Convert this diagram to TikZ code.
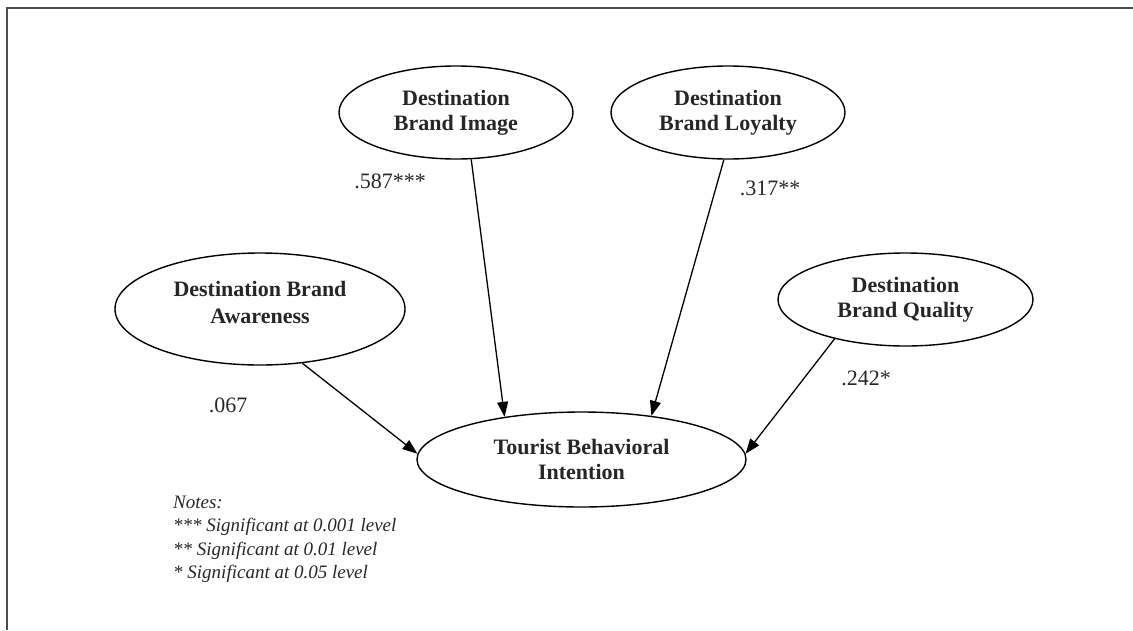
\documentclass[tikz,border=0pt]{standalone}
\usepackage{fontspec}
\setmainfont{Liberation Serif}
\usetikzlibrary{shapes.geometric,arrows.meta}
\begin{document}
\begin{tikzpicture}[x=1pt,y=-1pt,
  construct/.style={ellipse,draw=black,line width=1.4pt,inner sep=0pt,
    align=center,text=black!85,font=\fontsize{22}{25}\selectfont\bfseries},
  lbl/.style={align=center,text=black!85,inner sep=0pt,font=\fontsize{22}{27}\selectfont\bfseries},
  coef/.style={text=black!85,font=\fontsize{22}{25}\selectfont,inner sep=0pt},
  path/.style={line width=1.3pt,-{Triangle[length=15pt,width=11pt]}}]
\useasboundingbox (0,0) rectangle (1133,630);
\draw[line width=2pt,black!70] (7,630) -- (7,8) -- (1133,8);

\node[construct,minimum width=234pt,minimum height=93pt] (img) at (456,112.5) {Destination\\Brand Image};
\node[construct,minimum width=234pt,minimum height=93pt] (loy) at (728,112.5) {Destination\\Brand Loyalty};
\node[construct,minimum width=290pt,minimum height=112pt] (awa) at (260,309) {};
\node[lbl] (awat) at (260,302) {Destination Brand\\Awareness};
\node[construct,minimum width=255pt,minimum height=93pt] (qua) at (905.5,299.5) {Destination\\Brand Quality};
\node[construct,minimum width=329pt,minimum height=95pt] (tbi) at (581.5,459.5) {Tourist Behavioral\\Intention};

\draw[path] (awa.-52) -- (tbi.178);
\draw[path] (img.-72) -- (tbi.151);
\draw[path] (loy.-95) -- (tbi.32);
\draw[path] (qua.-151) -- (tbi.2.4);

\node[coef] (c1) at (390,181) {.587***};
\node[coef] (c2) at (770,188) {.317**};
\node[coef] (c3) at (228,405) {.067};
\node[coef] (c4) at (866,378) {.242*};

\node[anchor=base west,inner sep=0pt,align=left,text=black!85,
  font=\fontsize{19}{23.5}\selectfont\itshape] (notes) at (173,578.5)
  {Notes:\\*** Significant at 0.001 level\\** Significant at 0.01 level\\* Significant at 0.05 level};
\end{tikzpicture}
\end{document}
